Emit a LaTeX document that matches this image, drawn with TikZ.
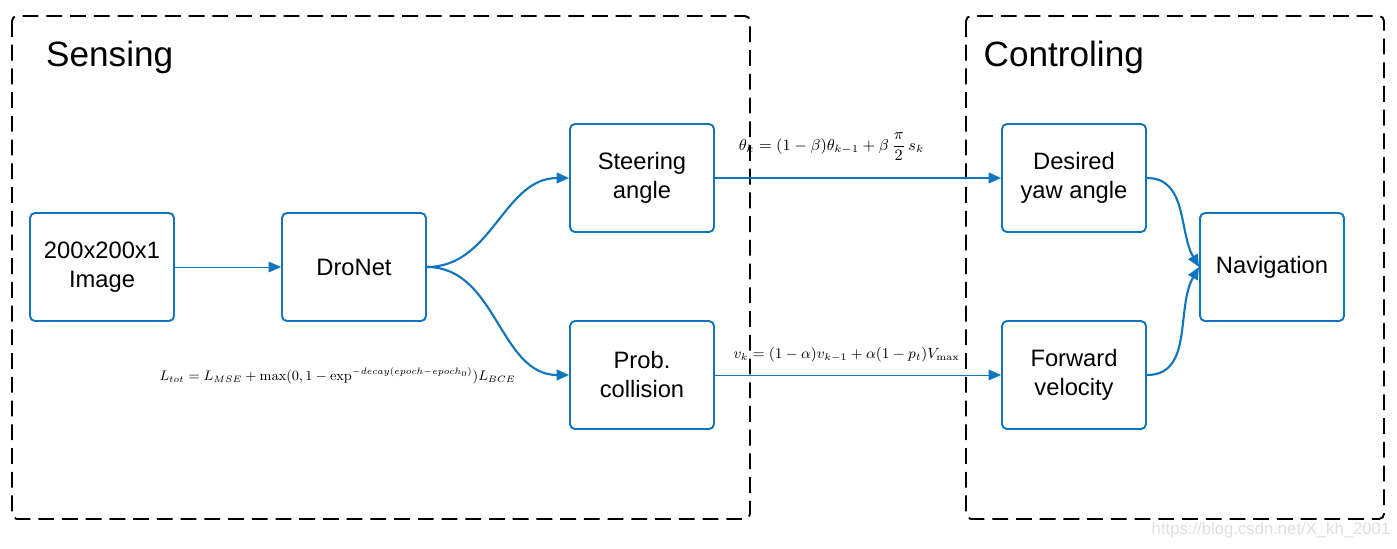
\documentclass[tikz,border=0pt]{standalone}
\usepackage[no-math]{fontspec}
\setmainfont{Liberation Sans}
\usetikzlibrary{arrows.meta}
\definecolor{dnblue}{RGB}{16,117,188}
\tikzset{
  box/.style={draw=dnblue, line width=1.1pt, rounded corners=1mm, minimum width=2.88cm,
    minimum height=2.16cm, align=center, font=\fontsize{13.5}{16.5}\selectfont},
  stage/.style={draw, line width=1.1pt, dash pattern=on 9pt off 4.5pt, rounded corners=1mm},
  flow/.style={draw=dnblue, line width=1.2pt, -{Triangle[length=7pt,width=6pt]}},
  thinflow/.style={flow, line width=0.45pt},
  eq/.style={font=\small}
}
\begin{document}
\begin{tikzpicture}
  \useasboundingbox (0,0) rectangle (27.94,-10.96);
  % stages
  \draw[stage] (0.24,-0.32) rectangle (15.0,-10.38);
  \draw[stage] (19.32,-0.32) rectangle (27.68,-10.38);
  \node[anchor=west, font=\fontsize{20}{24}\selectfont] (sensing) at (0.8,-1.14) {Sensing};
  \node[anchor=west, font=\fontsize{20}{24}\selectfont] (controling) at (19.55,-1.14) {Controling};
  % blocks
  \node[box] (img) at (2.04,-5.34) {200x200x1\\Image};
  \node[box] (dronet) at (7.08,-5.34) {DroNet};
  \node[box] (steer) at (12.84,-3.56) {Steering\\angle};
  \node[box] (coll) at (12.84,-7.5) {Prob.\\collision};
  \node[box] (yaw) at (21.48,-3.56) {Desired\\yaw angle};
  \node[box] (vel) at (21.48,-7.5) {Forward\\velocity};
  \node[box] (nav) at (25.44,-5.34) {Navigation};
  % equations
  \node[eq] (eqtheta) at (16.63,-2.94) {$\theta_k = (1-\beta)\theta_{k-1} + \beta\,\displaystyle\frac{\pi}{2}\,s_k$};
  \node[eq] (eqvel) at (16.93,-7.1) {\scalebox{0.94}{$v_k = (1-\alpha)v_{k-1} + \alpha(1-p_t)V_{\max}$}};
  \node[eq] (eqloss) at (6.75,-7.52) {\scalebox{0.88}{$L_{tot} = L_{MSE} + \max(0,1-\exp^{-decay(epoch-epoch_0)})L_{BCE}$}};
  % connections
  \draw[thinflow] (img) -- (dronet);
  \draw[flow] (dronet.east) to[out=0,in=180] (steer.west);
  \draw[flow] (dronet.east) to[out=0,in=180] (coll.west);
  \draw[flow] (steer) -- (yaw);
  \draw[thinflow] (coll) -- (vel);
  \draw[flow] (yaw.east) to[out=0,in=120] (nav.west);
  \draw[flow] (vel.east) to[out=0,in=240] (nav.west);
  % watermark
  \node[text=black!13, font=\fontsize{9.5}{11}\selectfont] (mark) at (25.42,-10.6) {https://blog.csdn.net/X\_kh\_2001};
\end{tikzpicture}
\end{document}
